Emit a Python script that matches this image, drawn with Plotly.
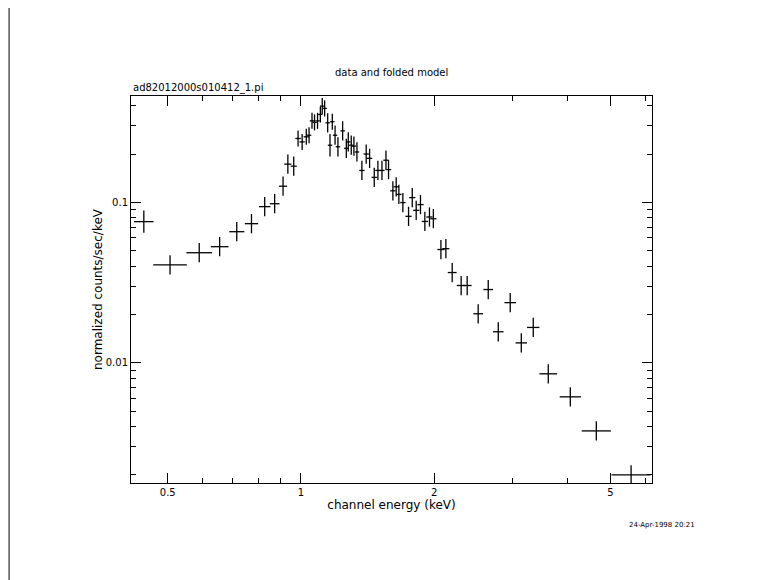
import numpy as np
import plotly.graph_objects as go

energy = [0.4415,0.506,0.589,0.655,0.716,0.773,0.828,0.872,0.911,0.934,0.963,0.985,1.006,1.028,1.043,
 1.059,1.073,1.090,1.106,1.117,1.131,1.149,1.163,1.177,1.194,1.212,1.242,1.266,1.279,1.299,1.317,1.338,
 1.373,1.404,1.429,1.464,1.492,1.524,1.556,1.577,1.613,1.641,1.664,1.699,1.750,1.784,1.821,1.862,1.905,
 1.951,1.991,2.071,2.125,2.196,2.301,2.374,2.514,2.649,2.791,2.970,3.146,3.348,3.620,4.060,4.648,5.570]
rate = [0.0758,0.0408,0.0485,0.0529,0.0656,0.0736,0.094,0.098,0.126,0.173,0.168,0.250,0.238,0.256,0.262,
 0.322,0.315,0.322,0.353,0.398,0.385,0.313,0.227,0.318,0.262,0.222,0.279,0.217,0.238,0.227,0.224,0.206,
 0.158,0.200,0.188,0.143,0.158,0.158,0.183,0.160,0.118,0.125,0.112,0.0996,0.0818,0.107,0.0891,0.0968,0.076,
 0.081,0.079,0.0508,0.0514,0.0365,0.0303,0.0303,0.0202,0.0286,0.0156,0.0237,0.0133,0.0166,0.00853,0.00613,0.00376,0.0020]
# half bin width in dex
xhw_dex = [0.022,0.038,0.029,0.020,0.017,0.015,0.013,0.011,0.009,0.008,0.007,0.006,0.006,0.006,0.005,
 0.005,0.005,0.005,0.005,0.005,0.005,0.005,0.005,0.005,0.005,0.005,0.005,0.005,0.005,0.005,0.005,0.005,
 0.006,0.006,0.006,0.006,0.006,0.006,0.006,0.006,0.006,0.006,0.006,0.006,0.007,0.007,0.007,0.007,0.007,
 0.007,0.007,0.008,0.008,0.010,0.010,0.010,0.011,0.011,0.012,0.013,0.013,0.014,0.020,0.024,0.033,0.044]
# half error in dex
yhe_dex = [0.07,0.06,0.06,0.06,0.06,0.06,0.06,0.06,0.06,0.06,0.06,0.05,0.05,0.05,0.05,
 0.05,0.05,0.05,0.05,0.05,0.05,0.06,0.07,0.05,0.06,0.06,0.06,0.06,0.06,0.06,0.06,0.06,
 0.06,0.06,0.06,0.06,0.06,0.06,0.06,0.06,0.06,0.06,0.06,0.06,0.06,0.06,0.06,0.06,0.06,
 0.06,0.06,0.06,0.06,0.06,0.06,0.06,0.06,0.06,0.06,0.06,0.06,0.06,0.06,0.06,0.06,0.06]

e = np.array(energy); r = np.array(rate)
fx = 10**np.array(xhw_dex); fy = 10**np.array(yhe_dex)

fig = go.Figure(go.Scatter(
    x=e, y=r, mode="markers", marker=dict(size=1, color="rgba(0,0,0,0)"),
    error_x=dict(type="data", symmetric=False, array=e*(fx-1), arrayminus=e*(1-1/fx), width=0, thickness=1.3, color="black"),
    error_y=dict(type="data", symmetric=False, array=r*(fy-1), arrayminus=r*(1-1/fy), width=0, thickness=1.3, color="black"),
))

xmaj = [0.5, 1, 2, 5]
xmin_ = [0.5,0.6,0.7,0.8,0.9,1,2,3,4,5,6]
ymaj = [0.01, 0.1]
ymin_ = [0.002,0.003,0.004,0.005,0.006,0.007,0.008,0.009,0.01,0.02,0.03,0.04,0.05,0.06,0.07,0.08,0.09,0.1,0.2,0.3,0.4]
xr = [np.log10(0.413), np.log10(6.21)]
yr = [np.log10(0.00178), np.log10(0.46)]
font = dict(family="DejaVu Sans", size=10, color="black")

ax = dict(type="log", showgrid=False, zeroline=False, showline=True, linecolor="black", linewidth=1,
          mirror="allticks", ticks="inside", tickcolor="black", automargin=False)
fig.update_layout(
    width=781, height=580, paper_bgcolor="white", plot_bgcolor="white", showlegend=False,
    margin=dict(l=123, r=137, t=88, b=105), font=font,
    xaxis=dict(**ax, range=xr, tickvals=xmin_, ticktext=[str(v) if v in xmaj else "" for v in xmin_], ticklen=5,
               title=dict(text="channel energy (keV)", standoff=2)),
    yaxis=dict(**ax, range=yr, tickvals=ymin_, ticktext=[str(v) if v in ymaj else "" for v in ymin_], ticklen=5,
               title=dict(text="normalized counts/sec/keV", standoff=0)),
    xaxis2=dict(**ax, range=xr, overlaying="x", tickvals=xmaj, ticklen=10, showticklabels=False),
    yaxis2=dict(**ax, range=yr, overlaying="y", tickvals=ymaj, ticklen=10, showticklabels=False),
    annotations=[
        dict(text="data and folded model", x=0.5, y=1, yshift=16, xref="paper", yref="paper", yanchor="bottom", showarrow=False),
        dict(text="ad82012000s010412_1.pi", x=0, y=1, xref="paper", yref="paper", xanchor="left", yanchor="bottom", showarrow=False),
        dict(text="24-Apr-1998 20:21", x=1.086, y=-0.109, xref="paper", yref="paper", xanchor="right", yanchor="middle", showarrow=False, font=dict(size=7)),
    ],
)
fig.add_trace(go.Scatter(x=[], y=[], xaxis="x2", yaxis="y2", showlegend=False))
fig.add_shape(type="line", xref="paper", yref="paper", x0=-0.234, x1=-0.234, y0=-0.3, y1=1.3, line=dict(color="black", width=1))
fig.write_html("out.html")
